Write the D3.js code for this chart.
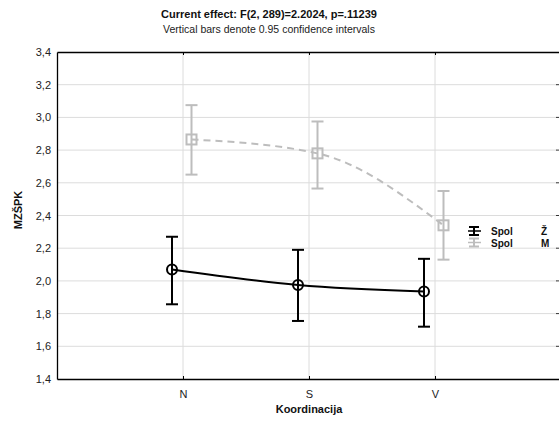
<!DOCTYPE html>
<html><head><meta charset="utf-8">
<script src="https://cdn.jsdelivr.net/npm/d3@7"></script>
<style>body{margin:0;background:#fff}svg{display:block;font-family:"Liberation Sans",Arial,sans-serif}</style>
</head><body><svg id="c" width="559" height="421"></svg>
<script>
const categories = ["N", "S", "V"];
const seriesNames = ["Ž", "M"];
const meansZ = [2.07, 1.975, 1.935];
const lowerZ = [1.857, 1.755, 1.72];
const upperZ = [2.27, 2.19, 2.135];
const meansM = [2.865, 2.78, 2.34];
const lowerM = [2.65, 2.565, 2.13];
const upperM = [3.075, 2.975, 2.55];
const yTicks = [1.4, 1.6, 1.8, 2.0, 2.2, 2.4, 2.6, 2.8, 3.0, 3.2, 3.4];

const svg = d3.select("#c");
const L = 57, R = 561, T = 52, B = 379;
const x = d3.scaleLinear().domain([0, categories.length + 1]).range([L, R]);
const y = d3.scaleLinear().domain([1.4, 3.4]).range([B, T]);
const fmt = d => d.toFixed(1).replace(".", ",");

// grid
const g = svg.append("g");
g.selectAll("line.hy").data(yTicks.slice(1, -1)).join("line")
  .attr("x1", L).attr("x2", 557).attr("y1", d => y(d)).attr("y2", d => y(d))
  .attr("stroke", "#dcdcdc").attr("stroke-width", 1);
g.selectAll("line.vx").data(categories).join("line")
  .attr("x1", (d, i) => x(i + 1)).attr("x2", (d, i) => x(i + 1)).attr("y1", T).attr("y2", B)
  .attr("stroke", "#dcdcdc").attr("stroke-width", 1);

// axes
const yAxis = d3.axisLeft(y).tickValues(yTicks).tickFormat(fmt).tickSize(0).tickPadding(6);
svg.append("g").attr("transform", `translate(${L},0)`).call(yAxis)
  .call(a => a.select(".domain").attr("stroke", "#000").attr("stroke-width", 1.3))
  .selectAll("text").attr("font-size", 11).attr("fill", "#222").attr("font-family", "Liberation Sans, Arial");
const xAxis = d3.axisBottom(x).tickValues([1, 2, 3]).tickFormat(d => categories[d - 1]).tickSize(3).tickPadding(8).tickSizeOuter(0);
svg.append("g").attr("transform", `translate(0,${B})`).call(xAxis)
  .call(a => a.select(".domain").attr("stroke", "#000").attr("stroke-width", 1.3))
  .call(a => a.selectAll(".tick line").attr("transform", "translate(0,-3)"))
  .selectAll("text").attr("font-size", 11).attr("fill", "#222").attr("font-family", "Liberation Sans, Arial");
const xTop = d3.axisTop(x).tickValues([1, 2, 3]).tickFormat("").tickSize(-3).tickSizeOuter(0);
svg.append("g").attr("transform", `translate(0,${T})`).call(xTop)
  .call(a => a.select(".domain").attr("stroke", "#000").attr("stroke-width", 1.3));
svg.append("g").selectAll("line").data(yTicks.slice(1, -1)).join("line")
  .attr("x1", 556).attr("x2", 559).attr("y1", d => y(d)).attr("y2", d => y(d)).attr("stroke", "#333");

// series
const series = [
  {name: seriesNames[0], m: meansZ, lo: lowerZ, hi: upperZ, color: "#000", dash: null, off: -11, marker: "circle"},
  {name: seriesNames[1], m: meansM, lo: lowerM, hi: upperM, color: "#bdbdbd", dash: "7,5", off: 8.5, marker: "square"}
];
series.slice().reverse().forEach(s => {
  const pts = s.m.map((v, i) => [x(i + 1) + s.off, y(v)]);
  const sg = svg.append("g");
  sg.append("path").attr("d", d3.line().curve(d3.curveMonotoneX)(pts))
    .attr("fill", "none").attr("stroke", s.color).attr("stroke-width", 2)
    .attr("stroke-dasharray", s.dash);
  s.m.forEach((v, i) => {
    const cx = x(i + 1) + s.off;
    sg.append("line").attr("x1", cx).attr("x2", cx).attr("y1", y(s.hi[i])).attr("y2", y(s.lo[i]))
      .attr("stroke", s.color).attr("stroke-width", 2);
    [s.hi[i], s.lo[i]].forEach(e => sg.append("line").attr("x1", cx - 6).attr("x2", cx + 6)
      .attr("y1", y(e)).attr("y2", y(e)).attr("stroke", s.color).attr("stroke-width", 2));
    if (s.marker === "circle") {
      sg.append("circle").attr("cx", cx).attr("cy", y(v)).attr("r", 5)
        .attr("fill", "none").attr("stroke", s.color).attr("stroke-width", 2);
    } else {
      sg.append("rect").attr("x", cx - 5).attr("y", y(v) - 5).attr("width", 10).attr("height", 10)
        .attr("fill", "none").attr("stroke", s.color).attr("stroke-width", 2);
    }
  });
});

// legend
series.forEach((s, k) => {
  const ly = 231 + k * 11.5;
  const lg = svg.append("g");
  lg.append("line").attr("x1", 474).attr("x2", 474).attr("y1", ly - 4).attr("y2", ly + 4).attr("stroke", s.color).attr("stroke-width", 2);
  lg.append("line").attr("x1", 469).attr("x2", 479).attr("y1", ly - 4).attr("y2", ly - 4).attr("stroke", s.color).attr("stroke-width", 2);
  lg.append("line").attr("x1", 469).attr("x2", 479).attr("y1", ly + 4).attr("y2", ly + 4).attr("stroke", s.color).attr("stroke-width", 2);
  lg.append("line").attr("x1", 468).attr("x2", 481).attr("y1", ly).attr("y2", ly).attr("stroke", s.color).attr("stroke-width", 1.5);
  lg.append("text").attr("x", 491).attr("y", ly + 4).attr("font-size", 10).attr("font-weight", "bold").attr("fill", "#111").text("Spol");
  lg.append("text").attr("x", 541).attr("y", ly + 4).attr("font-size", 10).attr("font-weight", "bold").attr("fill", "#111").text(s.name);
});

// titles
svg.append("text").attr("x", 269).attr("y", 18).attr("text-anchor", "middle").attr("font-size", 11)
  .attr("font-weight", "bold").attr("fill", "#111").text("Current effect: F(2, 289)=2.2024, p=.11239");
svg.append("text").attr("x", 269).attr("y", 33).attr("text-anchor", "middle").attr("font-size", 10.5)
  .attr("fill", "#222").text("Vertical bars denote 0.95 confidence intervals");
svg.append("text").attr("transform", "translate(22,210) rotate(-90)").attr("text-anchor", "middle")
  .attr("font-size", 11).attr("font-weight", "bold").attr("fill", "#111").text("MZŠPK");
svg.append("text").attr("x", 309).attr("y", 413).attr("text-anchor", "middle").attr("font-size", 11)
  .attr("font-weight", "bold").attr("fill", "#111").text("Koordinacija");
</script></body></html>
